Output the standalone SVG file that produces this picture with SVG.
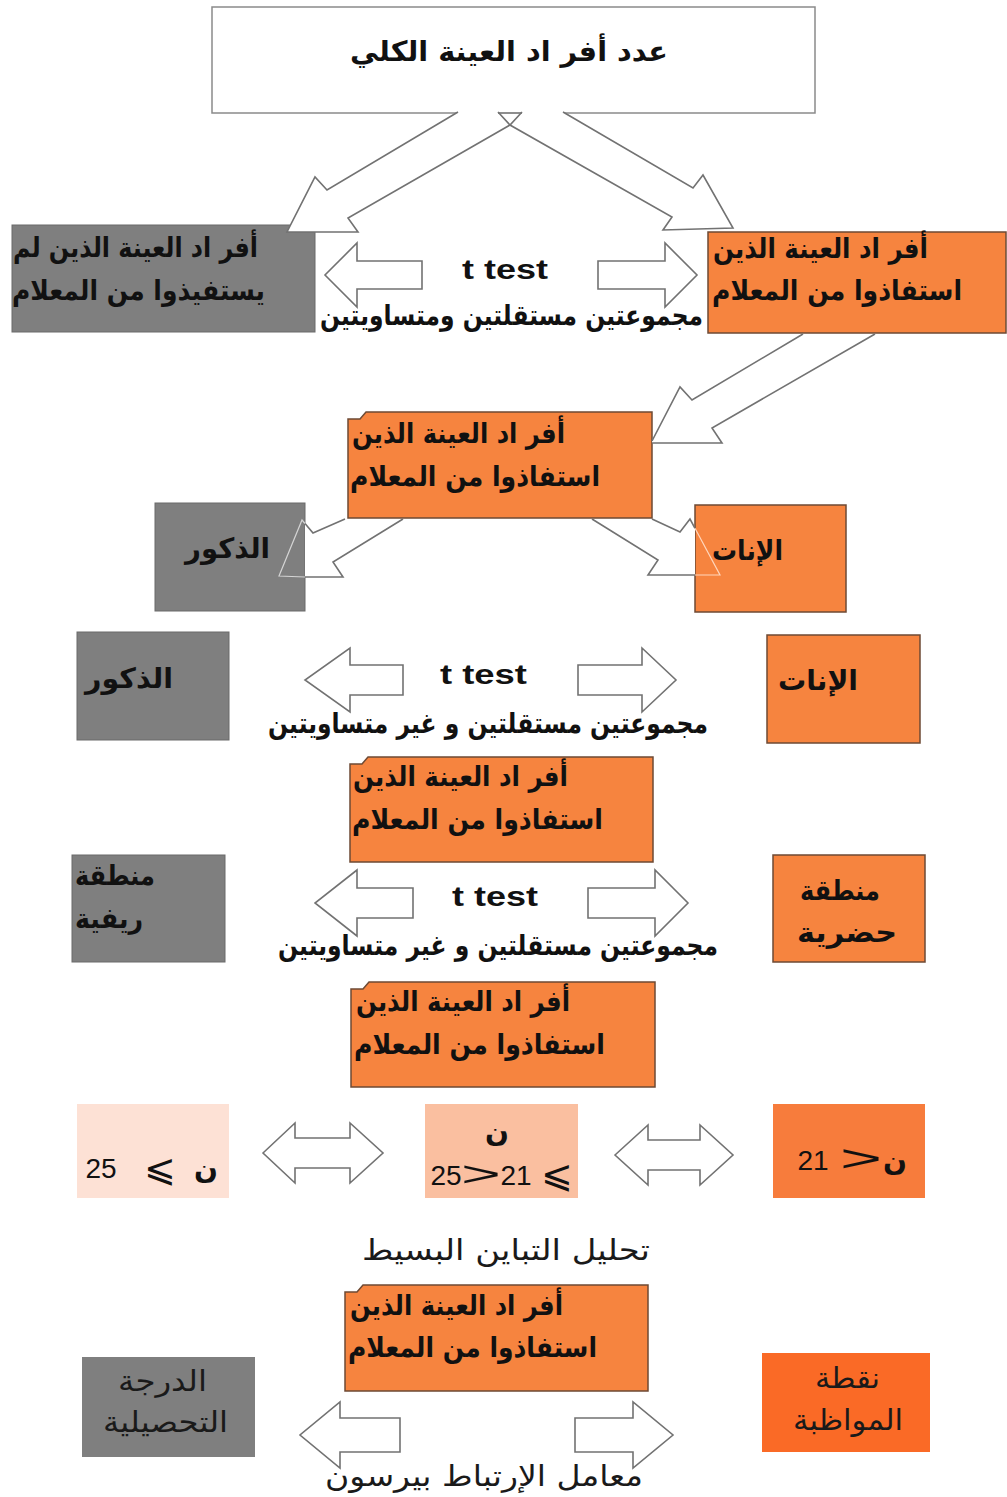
<svg xmlns="http://www.w3.org/2000/svg" width="1007" height="1497" viewBox="0 0 1007 1497">
<style>
.bg{fill:#ffffff}
.top{fill:#ffffff;stroke:#8a8a8a;stroke-width:1.5}
.gray{fill:#7f7f7f;stroke:#6a6a6a;stroke-width:1}
.org{fill:#f6843f;stroke:#6e4a34;stroke-width:1.5}
.p1{fill:#fde1d5}
.p2{fill:#fabfa0}
.p3{fill:#f77c3c}
.o6{fill:#fa6a26}
.g6{fill:#7f7f7f}
.ar{font-family:"DejaVu Sans",sans-serif;font-weight:bold;font-size:28px;fill:#111;text-anchor:middle}
.arl{font-family:"DejaVu Sans",sans-serif;font-weight:normal;font-size:29px;fill:#1a1a1a;text-anchor:middle}
.tt{font-family:"Liberation Sans",Arial,sans-serif;font-weight:bold;font-size:27px;fill:#111;text-anchor:middle}
.num{font-family:"Liberation Sans",Arial,sans-serif;font-size:28px;fill:#111;text-anchor:middle}
.sym{font-family:"DejaVu Sans",sans-serif;font-size:38px;fill:#111;text-anchor:middle}
.gt{font-family:"Liberation Sans",Arial,sans-serif;font-size:36px;fill:#111;text-anchor:middle}
.af{fill:#ffffff;stroke:none}
.as{fill:none;stroke:#727272;stroke-width:1.6;stroke-linejoin:miter}
.arw{fill:#ffffff;stroke:#727272;stroke-width:1.6}
.lt{fill:none;stroke:#d4d4d4;stroke-width:1.2}
.lto{fill:none;stroke:#ffd6bc;stroke-width:1.2}
</style>
<rect class="bg" x="0" y="0" width="1007" height="1497"/>

<g id="node-total">
<rect class="top" x="212" y="7" width="603" height="106"/>
<text class="ar" x="509" y="61" font-size="29" textLength="318" lengthAdjust="spacingAndGlyphs">عدد أفر اد العينة  الكلي</text>
</g>

<g id="node-nonbenef">
<rect class="gray" x="12" y="225" width="303" height="107"/>
<text class="ar" x="135.5" y="257" textLength="245" lengthAdjust="spacingAndGlyphs">أفر اد العينة الذين لم</text>
<text class="ar" x="138.5" y="300" textLength="253" lengthAdjust="spacingAndGlyphs">يستفيذوا من المعلام</text>
</g>

<g id="node-benef1">
<rect class="org" x="708" y="232" width="298" height="101"/>
<text class="ar" x="820.5" y="258" textLength="215" lengthAdjust="spacingAndGlyphs">أفر اد العينة الذين</text>
<text class="ar" x="837" y="300" textLength="250" lengthAdjust="spacingAndGlyphs">استفاذوا من المعلام</text>
</g>

<g id="label-test1">
<text class="tt" x="505" y="279" textLength="86" lengthAdjust="spacingAndGlyphs">t test</text>
<text class="ar" x="511.5" y="325" font-size="23" textLength="383" lengthAdjust="spacingAndGlyphs">مجموعتين  مستقلتين ومتساويتين</text>
</g>

<g id="node-benef2">
<path class="org" d="M348,419 L360,419 L366,412 L652,412 L652,518 L348,518 Z"/>
<text class="ar" x="458.5" y="443" textLength="213" lengthAdjust="spacingAndGlyphs">أفر اد العينة الذين</text>
<text class="ar" x="475" y="486" textLength="250" lengthAdjust="spacingAndGlyphs">استفاذوا من المعلام</text>
</g>

<g id="node-males1">
<rect class="gray" x="155" y="503" width="150" height="108"/>
<text class="ar" x="227.5" y="558" textLength="85" lengthAdjust="spacingAndGlyphs">الذكور</text>
</g>

<g id="node-females1">
<rect class="org" x="695" y="505" width="151" height="107"/>
<text class="ar" x="747.5" y="560" textLength="71" lengthAdjust="spacingAndGlyphs">الإنات</text>
</g>

<g id="node-males2">
<rect class="gray" x="77" y="632" width="152" height="108"/>
<text class="ar" x="129" y="688" textLength="88" lengthAdjust="spacingAndGlyphs">الذكور</text>
</g>

<g id="node-females2">
<rect class="org" x="767" y="635" width="153" height="108"/>
<text class="ar" x="818" y="690" textLength="80" lengthAdjust="spacingAndGlyphs">الإنات</text>
</g>

<g id="label-test2">
<text class="tt" x="483.5" y="684" textLength="87" lengthAdjust="spacingAndGlyphs">t test</text>
<text class="ar" x="488" y="733" font-size="23" textLength="440" lengthAdjust="spacingAndGlyphs">مجموعتين مستقلتين و غير متساويتين</text>
</g>

<g id="node-benef3">
<path class="org" d="M350,764 L362,764 L368,757 L653,757 L653,862 L350,862 Z"/>
<text class="ar" x="460.5" y="786" textLength="215" lengthAdjust="spacingAndGlyphs">أفر اد العينة الذين</text>
<text class="ar" x="477.5" y="829" textLength="251" lengthAdjust="spacingAndGlyphs">استفاذوا من المعلام</text>
</g>

<g id="node-rural">
<rect class="gray" x="72" y="855" width="153" height="107"/>
<text class="ar" x="115" y="885" textLength="80" lengthAdjust="spacingAndGlyphs">منطقة</text>
<text class="ar" x="109" y="928" textLength="68" lengthAdjust="spacingAndGlyphs">ريفية</text>
</g>

<g id="node-urban">
<rect class="org" x="773" y="855" width="152" height="107"/>
<text class="ar" x="840" y="900" textLength="80" lengthAdjust="spacingAndGlyphs">منطقة</text>
<text class="ar" x="847" y="942" textLength="100" lengthAdjust="spacingAndGlyphs">حضرية</text>
</g>

<g id="label-test3">
<text class="tt" x="495" y="906" textLength="86" lengthAdjust="spacingAndGlyphs">t test</text>
<text class="ar" x="498" y="955" font-size="23" textLength="440" lengthAdjust="spacingAndGlyphs">مجموعتين مستقلتين و غير متساويتين</text>
</g>

<g id="node-benef4">
<path class="org" d="M351,989 L363,989 L369,982 L655,982 L655,1087 L351,1087 Z"/>
<text class="ar" x="463" y="1011" textLength="214" lengthAdjust="spacingAndGlyphs">أفر اد العينة الذين</text>
<text class="ar" x="479.5" y="1054" textLength="251" lengthAdjust="spacingAndGlyphs">استفاذوا من المعلام</text>
</g>

<g id="node-age-high">
<rect class="p1" x="77" y="1104" width="152" height="94"/>
<text><tspan class="num" x="101" y="1178">25</tspan><tspan class="sym" x="160" y="1181">⩽</tspan><tspan class="ar" x="206" y="1178">ن</tspan></text>
</g>

<g id="node-age-mid">
<rect class="p2" x="425" y="1104" width="153" height="94"/>
<text class="ar" x="497" y="1141">ن</text>
<text><tspan class="num" x="446" y="1185">25</tspan><tspan class="num" x="516" y="1185">21</tspan><tspan class="sym" x="557" y="1187">⩽</tspan></text>
<text class="gt" transform="translate(481,1186) scale(1.9,1)">&gt;</text>
</g>

<g id="node-age-low">
<rect class="p3" x="773" y="1104" width="152" height="94"/>
<text><tspan class="num" x="813" y="1170">21</tspan><tspan class="ar" x="895" y="1170">ن</tspan></text>
<text class="gt" transform="translate(861,1171) scale(2,1)">&gt;</text>
</g>

<g id="label-anova">
<text class="arl" x="506" y="1260" font-size="31" textLength="288" lengthAdjust="spacingAndGlyphs">تحليل التباين البسيط</text>
</g>

<g id="node-benef5">
<path class="org" d="M345,1292 L357,1292 L363,1285 L648,1285 L648,1391 L345,1391 Z"/>
<text class="ar" x="456.5" y="1315" textLength="213" lengthAdjust="spacingAndGlyphs">أفر اد العينة الذين</text>
<text class="ar" x="472.5" y="1357" textLength="249" lengthAdjust="spacingAndGlyphs">استفاذوا من المعلام</text>
</g>

<g id="node-grade">
<rect class="g6" x="82" y="1357" width="173" height="100"/>
<text class="arl" x="162.5" y="1391" textLength="89" lengthAdjust="spacingAndGlyphs">الدرجة</text>
<text class="arl" x="165.5" y="1432" textLength="125" lengthAdjust="spacingAndGlyphs">التحصيلية</text>
</g>

<g id="node-attendance">
<rect class="o6" x="762" y="1353" width="168" height="99"/>
<text class="arl" x="847.5" y="1388" textLength="65" lengthAdjust="spacingAndGlyphs">نقطة</text>
<text class="arl" x="848" y="1430" textLength="110" lengthAdjust="spacingAndGlyphs">المواظبة</text>
</g>

<g id="label-pearson">
<text class="arl" x="484" y="1486" font-size="31" textLength="318" lengthAdjust="spacingAndGlyphs">معامل الإرتباط بيرسون</text>
</g>

<g id="connectors">
<path class="af" d="M522,112 L510,125 L348,218 L358,232 L287,232 L315,177 L327,190 L458,112 Z"/>
<path class="af" d="M498,112 L510,125 L672,217 L663,230 L733,228 L703,175 L693,188 L563,112 Z"/>
<path class="as" d="M522,112 L510,125 L348,218 L358,232 L287,232 L315,177 L327,190 L458,112"/>
<path class="as" d="M498,112 L510,125 L672,217 L663,230 L733,228 L703,175 L693,188 L563,112"/>
<path class="as" d="M498,113 L522,113"/>

<path class="arw" d="M422,261 L357,261 L357,243 L325,275 L357,307 L357,289 L422,289 Z"/>
<path class="arw" d="M598,261 L665,261 L665,243 L697,275 L665,307 L665,289 L598,289 Z"/>

<path class="af" d="M803,334 L692,400 L680,387 L652,441 L652,443 L722,443 L712,428 L875,334 Z"/>
<path class="as" d="M803,334 L692,400 L680,387 L652,441 M652,443 L722,443 L712,428 L875,334"/>

<path class="af" d="M345,519 L313,533 L305,523.5 L305,577 L343,577 L333,562 L403,519 Z"/>
<path class="as" d="M345,519 L313,533 L305,523.5 M305,577 L343,577 L333,562 L403,519"/>
<path class="lt" d="M305,523.5 L302,520 L279,576 L305,577"/>

<path class="af" d="M592,519 L658,560 L648,575 L695,575 L695,528.3 L690,519 L680,532 L652,519 Z"/>
<path class="as" d="M592,519 L658,560 L648,575 L695,575 M695,528.3 L690,519 L680,532 L652,519"/>
<path class="lto" d="M695,528.3 L720,575 L695,575"/>

<path class="arw" d="M403,665 L350,665 L350,648 L305,680 L350,712 L350,695 L403,695 Z"/>
<path class="arw" d="M578,665 L642,665 L642,648 L676,680 L642,712 L642,695 L578,695 Z"/>

<path class="arw" d="M413,888 L357,888 L357,870 L315,903 L357,936 L357,918 L413,918 Z"/>
<path class="arw" d="M588,888 L655,888 L655,870 L688,903 L655,936 L655,918 L588,918 Z"/>

<path class="arw" d="M263,1153 L295,1123 L295,1138 L350,1138 L350,1123 L383,1153 L350,1183 L350,1168 L295,1168 L295,1183 Z"/>
<path class="arw" d="M615,1155 L648,1125 L648,1140 L700,1140 L700,1125 L733,1155 L700,1185 L700,1170 L648,1170 L648,1185 Z"/>

<path class="arw" d="M400,1418 L340,1418 L340,1402 L300,1435 L340,1468 L340,1452 L400,1452 Z"/>
<path class="arw" d="M575,1418 L633,1418 L633,1402 L673,1435 L633,1468 L633,1452 L575,1452 Z"/>
</g>
</svg>
